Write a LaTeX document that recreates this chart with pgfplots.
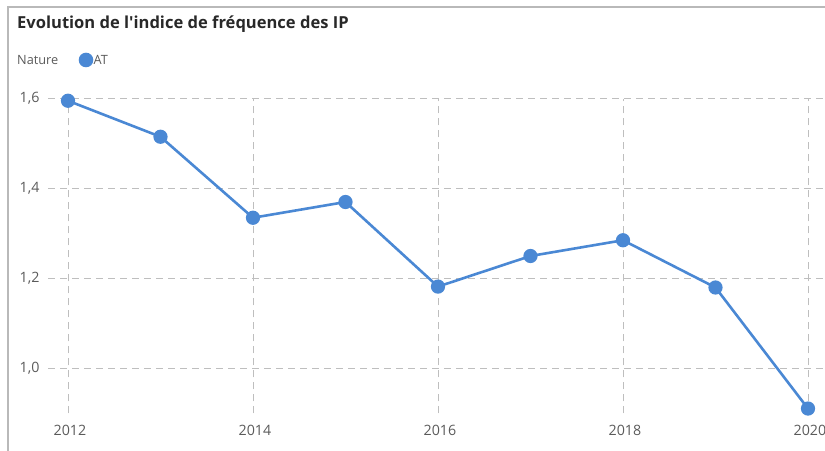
\documentclass[border=0pt]{standalone}
\usepackage{fontspec}
\setmainfont{Open Sans}[Ligatures=TeXOff]
\usepackage{pgfplots}
\pgfplotsset{compat=1.18}
\definecolor{lineblue}{RGB}{74,136,212}
\definecolor{gridgray}{RGB}{190,190,190}
\definecolor{ticktext}{RGB}{90,90,90}
\definecolor{titletext}{RGB}{40,40,40}
\definecolor{framegray}{RGB}{185,185,185}
\begin{document}
\begin{tikzpicture}
\useasboundingbox (0bp,0bp) rectangle (825bp,451bp);
\draw[framegray, line width=1.2bp] (8bp,-5bp) -- (8bp,444bp) -- (830bp,444bp);
\node[anchor=base west, inner sep=0, text=titletext, font=\fontsize{16.6}{19}\selectfont\bfseries] at (17bp,422bp) {Evolution de l'indice de fréquence des IP};
\node[anchor=base west, inner sep=0, text=ticktext, font=\fontsize{12.8}{15}\selectfont] at (17bp,386bp) {Nature};
\fill[lineblue] (86bp,391bp) circle (7.3bp);
\node[anchor=base west, inner sep=0, text=ticktext, font=\fontsize{12.8}{15}\selectfont] at (93.5bp,386bp) {AT};
\begin{axis}[
  at={(48bp,37.5bp)}, anchor=south west, scale only axis,
  width=777bp, height=315bp,
  xmin=2011.784, xmax=2020.184, ymin=0.9, ymax=1.6,
  axis line style={draw=none}, major tick style={draw=none},
  xtick={2012,2014,2016,2018,2020}, ytick={1.0,1.2,1.4,1.6},
  xticklabels={2012,2014,2016,2018,2020},
  yticklabels={{1,0},{1,2},{1,4},{1,6}},
  grid=major,
  major grid style={gridgray, dash pattern=on 7bp off 5bp, line width=0.9bp},
  clip=false,
  xticklabel style={font=\fontsize{14.3}{16}\selectfont, text=ticktext, yshift=-8bp, xshift=2bp},
  yticklabel style={font=\fontsize{14.3}{16}\selectfont, text=ticktext, xshift=-5bp},
]
\addplot[lineblue, line width=2.6bp, mark=*, mark size=5.8bp, mark options={fill=lineblue, draw=lineblue}]
coordinates {
(2012,1.595) (2013,1.515) (2014,1.335) (2015,1.370) (2016,1.182)
(2017,1.250) (2018,1.285) (2019,1.180) (2020,0.911)
};
\end{axis}
\end{tikzpicture}
\end{document}
